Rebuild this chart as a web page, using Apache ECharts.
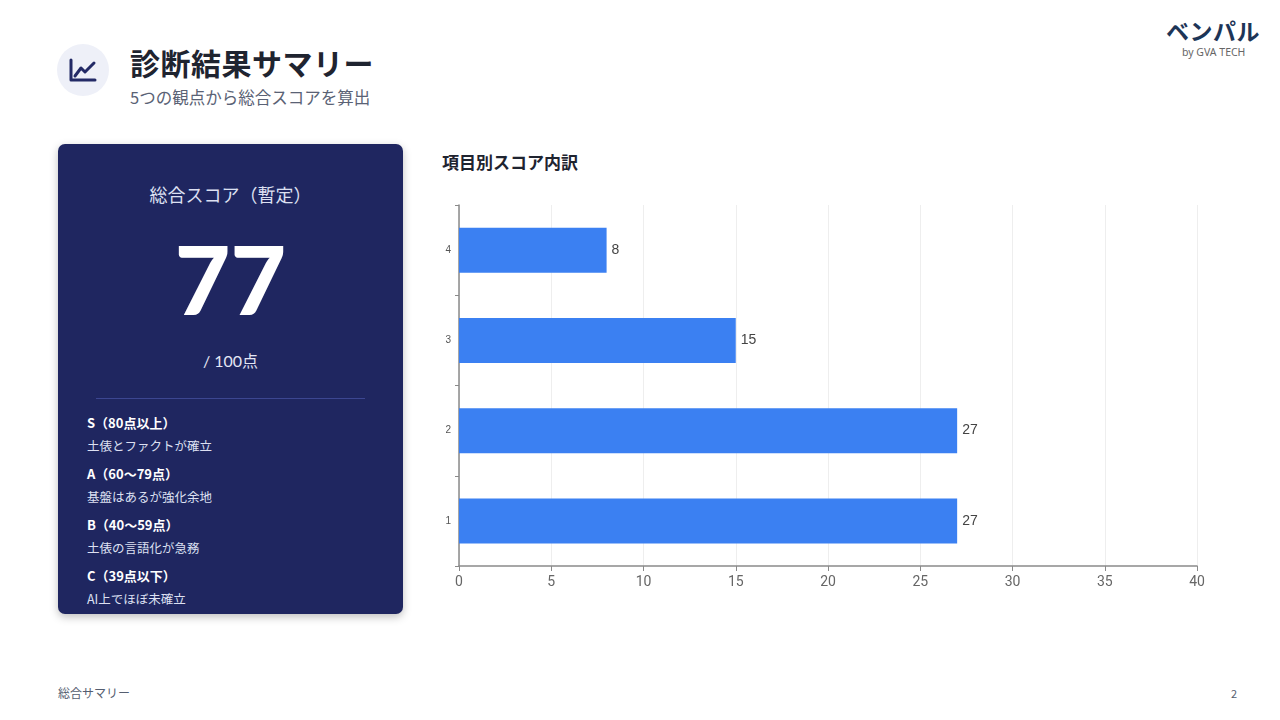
<!DOCTYPE html>
<html>
<head>
<meta charset="utf-8">
<script src="https://cdn.jsdelivr.net/npm/echarts@6/dist/echarts.min.js"></script>
<style>
  body{margin:0;width:1280px;height:720px;background:#fff;font-family:"Noto Sans CJK JP","Noto Sans",sans-serif;position:relative;overflow:hidden;}
  .abs{position:absolute;}
  #icon{left:57px;top:44px;width:52px;height:52px;border-radius:50%;background:#eef0f8;}
  #title{left:130px;top:40px;font-size:30px;font-weight:700;color:#1f2430;letter-spacing:0.5px;}
  #sub{left:130px;top:85px;font-size:16.5px;color:#5a6275;}
  #logo{left:1166px;top:13px;font-size:23px;font-weight:700;color:#1d3557;letter-spacing:0.5px;}
  #by{left:1182px;top:45px;font-size:10.5px;color:#666;font-family:"Noto Sans",sans-serif;}
  #card{left:58px;top:144px;width:345px;height:470px;background:#1f2660;border-radius:7px;box-shadow:0 3px 8px rgba(0,0,0,0.25);color:#fff;}
  #card .c{position:absolute;left:0;width:345px;text-align:center;}
  #ctitle{top:37px;font-size:18px;color:#dde0f2;}
  #big{top:72px;font-size:96px;font-weight:900;font-family:"Lato","Noto Sans",sans-serif;line-height:124px;}
  #of{top:204px;font-size:16px;color:#e4e6f4;font-family:"Lato","Noto Sans CJK JP",sans-serif;}
  #rule{left:38px;top:254px;width:269px;height:1px;background:#3c4691;}
  .gr{position:absolute;left:29px;font-size:13px;font-weight:700;color:#fff;}
  .gd{position:absolute;left:29px;font-size:12.5px;color:#dde0f2;}
  #ctit{left:442px;top:149px;font-size:17px;font-weight:700;color:#1f2430;}
  #chart{left:420px;top:190px;width:820px;height:420px;}
  #foot{left:58px;top:684px;font-size:12px;color:#555e70;}
  #page{left:1231px;top:685px;font-size:11px;color:#555e70;}
</style>
</head>
<body>
<div id="icon" class="abs">
  <svg width="52" height="52" viewBox="0 0 52 52">
    <path d="M14 16 V36 H38" fill="none" stroke="#232a66" stroke-width="3" stroke-linecap="round" stroke-linejoin="round"/>
    <path d="M18 32 L24 24 L28 28 L37 19" fill="none" stroke="#232a66" stroke-width="3" stroke-linecap="round" stroke-linejoin="round"/>
  </svg>
</div>
<div id="title" class="abs">診断結果サマリー</div>
<div id="sub" class="abs">5つの観点から総合スコアを算出</div>
<div id="logo" class="abs">ベンパル</div>
<div id="by" class="abs">by GVA TECH</div>

<div id="card" class="abs">
  <div id="ctitle" class="c">総合スコア（暫定）</div>
  <div id="big" class="c">77</div>
  <div id="of" class="c">/ 100点</div>
  <div id="rule" class="abs"></div>
  <div class="gr" style="top:269px">S（80点以上）</div>
  <div class="gd" style="top:292px">土俵とファクトが確立</div>
  <div class="gr" style="top:320px">A（60〜79点）</div>
  <div class="gd" style="top:343px">基盤はあるが強化余地</div>
  <div class="gr" style="top:371px">B（40〜59点）</div>
  <div class="gd" style="top:394px">土俵の言語化が急務</div>
  <div class="gr" style="top:422px">C（39点以下）</div>
  <div class="gd" style="top:445px">AI上でほぼ未確立</div>
</div>

<div id="ctit" class="abs">項目別スコア内訳</div>
<div id="chart" class="abs"></div>
<div id="foot" class="abs">総合サマリー</div>
<div id="page" class="abs">2</div>

<script>
// score by item
var itemNames=['1','2','3','4'];
var itemScores=[27,27,15,8];
var scoreMax=40;
var scoreStep=5;

var chart=echarts.init(document.getElementById('chart'));
var option={
  animation:false,
  grid:{left:39,top:15,width:738,height:361},
  xAxis:{
    type:'value',
    min:0,
    max:scoreMax,
    interval:scoreStep,
    axisLine:{show:true,lineStyle:{color:'#8a8a8a',width:1.5}},
    axisTick:{show:true,length:5,lineStyle:{color:'#8a8a8a'}},
    axisLabel:{color:'#666',fontSize:14,margin:9,fontFamily:'Liberation Sans Narrow, Roboto, sans-serif'},
    splitLine:{show:true,lineStyle:{color:'#eeeeee'}}
  },
  yAxis:{
    type:'category',
    data:itemNames,
    axisLine:{show:true,lineStyle:{color:'#8a8a8a',width:1.5}},
    axisTick:{show:true,length:4,lineStyle:{color:'#8a8a8a'}},
    axisLabel:{color:'#555',fontSize:10,margin:8}
  },
  series:[{
    type:'bar',
    data:itemScores,
    barWidth:45,
    itemStyle:{color:'#3b80f2'},
    label:{show:true,position:'right',color:'#444',fontSize:14,distance:5}
  }]
};
chart.setOption(option);
</script>
</body>
</html>
